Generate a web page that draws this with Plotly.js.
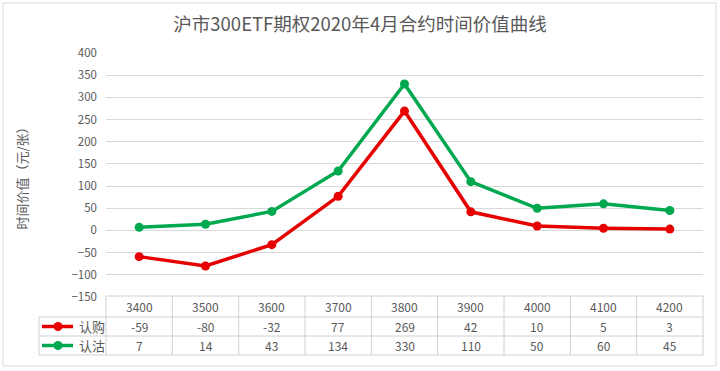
<!DOCTYPE html>
<html><head><meta charset="utf-8">
<script src="https://cdn.plot.ly/plotly-3.0.1.min.js"></script>
<style>html,body{margin:0;padding:0;background:#fff;}#chart{width:720px;height:371px;}</style>
</head><body><div id="chart"></div>
<script>
const strikes = ['3400','3500','3600','3700','3800','3900','4000','4100','4200'];
const callValues = [-59,-80,-32,77,269,42,10,5,3];
const putValues = [7,14,43,134,330,110,50,60,45];
const seriesNames = ['认购','认沽'];
const tableCall = [-59,-80,-32,77,269,42,10,5,3];
const tablePut = [7,14,43,134,330,110,50,60,45];
const yTicks = [-150,-100,-50,0,50,100,150,200,250,300,350,400];

const red = '#E60000', green = '#00A84F';
const font = 'Noto Sans CJK SC, Noto Sans, sans-serif';
const txt = '#595959';

const L=106, R=703, T=53, B=297, W=720, H=371;
const pw = R-L, ph = B-T;
const px = v => (v-L)/pw;
const py = v => (B-v)/ph;

const traces = [
  {x: strikes, y: callValues, name: seriesNames[0], type:'scatter', mode:'lines+markers',
   line:{color:red,width:3.5}, marker:{color:red,size:9}},
  {x: strikes, y: putValues, name: seriesNames[1], type:'scatter', mode:'lines+markers',
   line:{color:green,width:3.5}, marker:{color:green,size:9}}
];

const gridC = '#D0D0D0';
const shapes = [];
const rowY = [296, 317, 336, 355];
shapes.push({type:'line', xref:'paper', yref:'paper', x0:px(106), x1:px(703), y0:py(296), y1:py(296), line:{color:gridC,width:1}});
for (let i=1;i<rowY.length;i++){
  shapes.push({type:'line', xref:'paper', yref:'paper', x0:px(39), x1:px(703), y0:py(rowY[i]), y1:py(rowY[i]), line:{color:gridC,width:1}});
}
for (let i=0;i<=strikes.length;i++){
  const xp = i/strikes.length;
  shapes.push({type:'line', xref:'paper', yref:'paper', x0:xp, x1:xp, y0:py(296), y1:py(355), line:{color:gridC,width:1}});
}
shapes.push({type:'line', xref:'paper', yref:'paper', x0:px(39), x1:px(39), y0:py(317), y1:py(355), line:{color:gridC,width:1}});
shapes.push({type:'rect', xref:'paper', yref:'paper', x0:px(3), x1:px(716), y0:py(3), y1:py(366), line:{color:'#D9D9D9',width:1}});

const cy = [306.5, 326.5, 345.5];
const annotations = [];
[[red, cy[1], seriesNames[0]], [green, cy[2], seriesNames[1]]].forEach(([c, yy, name])=>{
  shapes.push({type:'line', xref:'paper', yref:'paper', x0:px(42), x1:px(73), y0:py(yy), y1:py(yy), line:{color:c,width:3.5}});
  shapes.push({type:'circle', xref:'paper', yref:'paper', x0:px(53.5), x1:px(62.5), y0:py(yy-4.5), y1:py(yy+4.5), fillcolor:c, line:{color:c,width:0}});
  annotations.push({x:px(77), xref:'paper', xanchor:'left', y:py(yy), yref:'paper', yanchor:'middle', text:name, showarrow:false, font:{family:font,size:13,color:txt}});
});
strikes.forEach((s,i)=>{
  const base = {xref:'x', yref:'paper', xanchor:'center', yanchor:'middle', showarrow:false, font:{family:font,size:12,color:txt}};
  annotations.push(Object.assign({x:i, y:py(cy[0]), text:s}, base));
  annotations.push(Object.assign({x:i, y:py(cy[1]), text:String(tableCall[i])}, base));
  annotations.push(Object.assign({x:i, y:py(cy[2]), text:String(tablePut[i])}, base));
});

const layout = {
  width:W, height:H,
  margin:{l:L, r:W-R, t:T, b:H-B, pad:0},
  paper_bgcolor:'#fff', plot_bgcolor:'#fff',
  title:{text:'沪市300ETF期权2020年4月合约时间价值曲线', x:0.5, xanchor:'center', y:1-25/H, yanchor:'middle',
         font:{family:font,size:18.5,color:txt}},
  xaxis:{type:'category', range:[-0.5,8.5], showticklabels:false, showgrid:false, zeroline:false, showline:false, ticks:''},
  yaxis:{range:[-150,400], tickvals:yTicks, showgrid:true, gridcolor:'#D9D9D9', gridwidth:1, zeroline:false, showline:false,
         ticks:'', ticklabelstandoff:8, tickfont:{family:font,size:11.5,color:txt},
         title:{text:'时间价值（元/张）', standoff:40, font:{family:font,size:13,color:txt}}},
  showlegend:false,
  shapes, annotations
};
Plotly.newPlot('chart', traces, layout, {displayModeBar:false, staticPlot:true});
</script></body></html>
